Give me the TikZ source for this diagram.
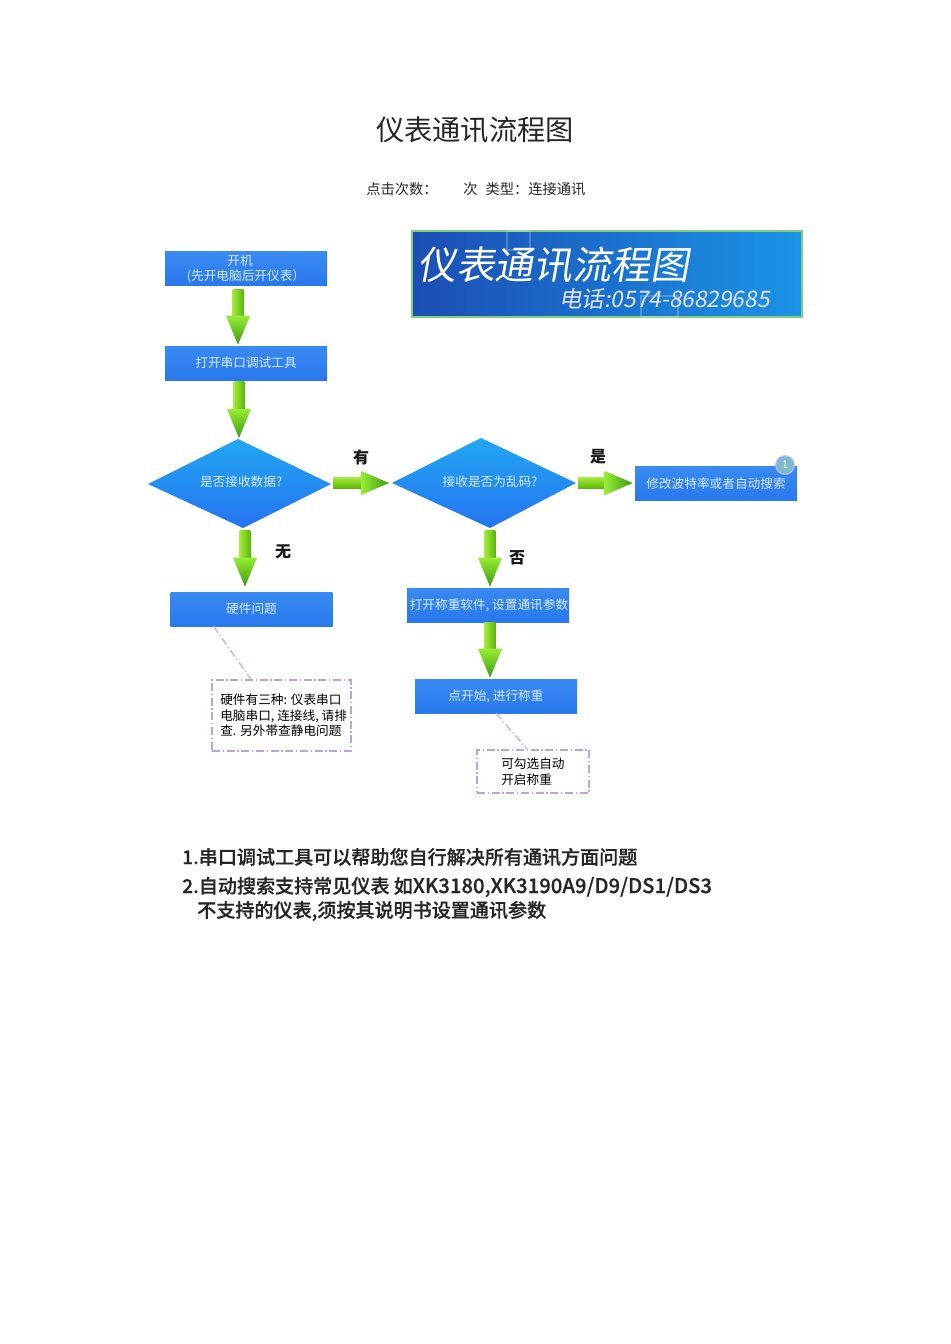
\documentclass[tikz,border=0pt]{standalone}
\usepackage{fontspec}
\setmainfont{Noto Sans CJK SC}
\newfontfamily\bannerfont[FakeSlant=0.18]{Noto Sans CJK SC}
\newfontfamily\medfont[FakeBold=0.5]{Noto Sans CJK SC Medium}
\usetikzlibrary{calc}
\definecolor{boxtop}{HTML}{3A8AF2}
\definecolor{boxbot}{HTML}{2878EE}
\definecolor{boxtext}{HTML}{D6EAFF}
\definecolor{garL}{HTML}{A4E83C}
\definecolor{garM}{HTML}{6FD414}
\definecolor{garD}{HTML}{58B808}
\definecolor{headT}{HTML}{96EC34}
\definecolor{headB}{HTML}{3C9A10}
\definecolor{notepurple}{HTML}{B9A2E6}
\definecolor{dtop}{HTML}{22A6F2}
\definecolor{dbot}{HTML}{2474F0}
\definecolor{banL}{HTML}{1B4EB4}
\definecolor{banR}{HTML}{1A93E6}
\tikzset{
  flowbox/.style={rectangle,inner sep=0pt,minimum width=121.5pt,minimum height=25.5pt,
    top color=boxtop,bottom color=boxbot,text=boxtext,align=center,
    font=\fontsize{9.5}{11.5}\selectfont},
  decisiontext/.style={text=boxtext,font=\fontsize{9.5}{11.5}\selectfont},
  notebox/.style={draw=notepurple,line width=1.4pt,dash pattern=on 6pt off 2pt on 1pt off 2pt,inner sep=0pt},
  notelink/.style={draw=notepurple!75,line width=1.2pt,dash pattern=on 6pt off 2pt on 1pt off 2pt},
  notetext/.style={anchor=west,align=left,text=black,inner sep=0pt,font=\fontsize{9.5}{11.6}\selectfont},
  branchlabel/.style={inner sep=0pt,text=black!90,font=\fontsize{12}{14}\bfseries\selectfont},
  bigline/.style={anchor=west,inner sep=0pt,text=black!85,font=\medfont\fontsize{14.3}{17}\selectfont},
  headline/.style={anchor=west,inner sep=0pt,font=\fontsize{10.7}{12}\selectfont,text=black!85},
}
% vertical block arrow: start point, tip point (the y of the tip is taken from #2)
\newcommand\vgarrow[2]{%
  \path[left color=garL,middle color=garM,right color=garD] let \p1=(#1),\p2=(#2) in
    (\x1-4pt,\y1) rectangle (\x1+4pt,\y2+21pt);
  \path[top color=headT,bottom color=headB] let \p1=(#1),\p2=(#2) in
    (\x1-9pt,\y2+21.75pt) -- (\x1+9pt,\y2+21.75pt) -- (\x1,\y2) -- cycle;}
% horizontal block arrow
\newcommand\hgarrow[2]{%
  \path[top color=garL,middle color=garM,bottom color=garD] let \p1=(#1),\p2=(#2) in
    (\x1,\y1-4pt) rectangle (\x2-20pt,\y1+4pt);
  \path[left color=headT,right color=headB] let \p1=(#1),\p2=(#2) in
    (\x2-21pt,\y1+9pt) -- (\x2-21pt,\y1-9pt) -- (\x2,\y1) -- cycle;}
\begin{document}
\begin{tikzpicture}[x=0.75pt,y=-0.75pt]
\useasboundingbox (0,0) rectangle (950,1344);
% heading
\node[inner sep=0pt,font=\fontsize{21.2}{24}\selectfont,text=black!85] (title) at (475,130) {仪表通讯流程图};
\node[headline] (clicks) at (366,189) {点击次数：};
\node[headline] (kind) at (463,189) {次\hspace{6pt}类型：连接通讯};
% banner
\node[rectangle,draw=green!45!gray!70,line width=1pt,left color=banL,right color=banR,inner sep=0pt,
  minimum width=292.5pt,minimum height=64.5pt] (banner) at (607,274) {};
\draw[white,opacity=.22,line width=.8pt] (507,231) rectangle (530,250);
\draw[white,opacity=.22,line width=.8pt] (641,296) rectangle (678,317);
\node[anchor=west,inner sep=0pt,text=white,font=\bannerfont\fontsize{29.1}{32}\selectfont] (bannermain) at (417,265) {仪表通讯流程图};
\node[anchor=west,inner sep=0pt,text=white!90!blue,font=\bannerfont\fontsize{17}{18}\selectfont] (bannertel) at (559,299) {电话:0574-86829685};
% boxes
\node[flowbox] (b1) at (246,269) {开机\hspace*{9pt}\null\\(先开电脑后开仪表）};
\node[flowbox] (b2) at (246,363) {打开串口调试工具};
\node[flowbox] (hw) at (251.5,609) {硬件问题};
\node[flowbox] (soft) at (488,605) {\null\hspace*{1.5pt}打开称重软件, 设置通讯参数};
\node[flowbox] (go) at (496,696) {点开始, 进行称重};
\node[flowbox] (fix) at (716,483.5) {修改波特率或者自动搜索};
% badge
\node[circle,draw=white!75!blue,line width=.8pt,fill=blue!25!cyan!45!gray!70,minimum size=14pt,inner sep=0pt,
  text=white,font=\fontsize{8}{9}\selectfont] (badge) at (785,465) {1};
% decisions
\coordinate (d1l) at (148,484); \coordinate (d1r) at (331,484);
\coordinate (d1t) at (238,439); \coordinate (d1b) at (243,528);
\coordinate (d2l) at (392,483); \coordinate (d2r) at (576,483);
\coordinate (d2t) at (481,438); \coordinate (d2b) at (490,528);
\path[top color=dtop,bottom color=dbot] (d1l) -- (d1t) -- (d1r) -- (d1b) -- cycle;
\path[top color=dtop,bottom color=dbot] (d2l) -- (d2t) -- (d2r) -- (d2b) -- cycle;
\node[decisiontext] (d1) at (241,482) {是否接收数据?};
\node[decisiontext] (d2) at (490,482) {接收是否为乱码?};
% arrows
\vgarrow{[xshift=-6pt,yshift=-2.25pt]b1.south}{[yshift=.75pt]b2.north}
\vgarrow{[xshift=-5.25pt,yshift=-.75pt]b2.south}{[yshift=.75pt]d1t}
\vgarrow{[xshift=1.5pt,yshift=-1.5pt]d1b}{[yshift=3.75pt]hw.north}
\vgarrow{[yshift=-1.5pt]d2b}{[yshift=.75pt]soft.north}
\vgarrow{[xshift=1.5pt]soft.south}{[yshift=.75pt]go.north}
\hgarrow{[xshift=1.5pt,yshift=.75pt]d1r}{[xshift=-2.25pt]d2l}
\hgarrow{[xshift=1.5pt]d2r}{[xshift=-1.5pt]fix.west}
% branch labels
\node[branchlabel] (lyes1) at (361,457) {有};
\node[branchlabel] (lyes2) at (598,457) {是};
\node[branchlabel] (lno1) at (283,552) {无};
\node[branchlabel] (lno2) at (517,558) {否};
% notes
\node[notebox,minimum width=104.25pt,minimum height=53.25pt] (n1) at (281.5,715.5) {};
\node[notetext] (n1t) at (220,715.5) {硬件有三种: 仪表串口\\电脑串口, 连接线, 请排\\查. 另外帯查静电问题};
\node[notebox,minimum width=84pt,minimum height=32.25pt] (n2) at (533,771.5) {};
\node[notetext] (n2t) at (501,771.5) {可勾选自动\\开启称重};
\draw[notelink] ([xshift=-28.5pt]hw.south) -- ([xshift=-23pt]n1.north);
\draw[notelink] (go.south) -- ([xshift=-4.5pt]n2.north);
% remarks
\node[bigline] (r1) at (182,857) {1.串口调试工具可以帮助您自行解决所有通讯方面问题};
\node[bigline] (r2) at (182,887) {2.自动搜索支持常见仪表 如{\fontsize{15.2}{17}\selectfont XK3180,XK3190A9/D9/DS1/DS3}};
\node[bigline] (r3) at (197,911) {不支持的仪表,须按其说明书设置通讯参数};
\end{tikzpicture}
\end{document}
